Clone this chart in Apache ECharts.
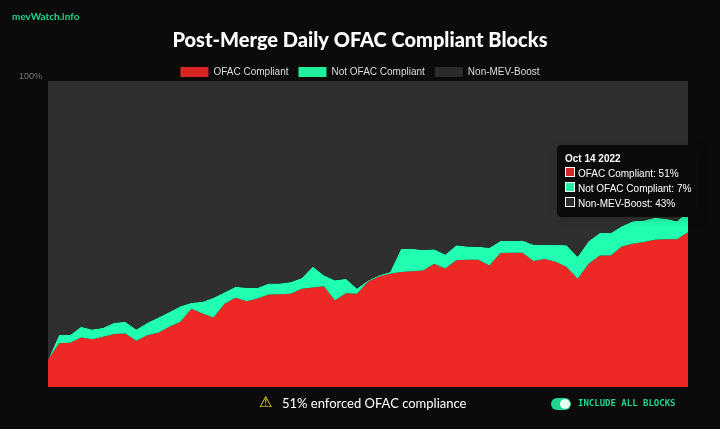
<!DOCTYPE html>
<html>
<head>
<meta charset="utf-8">
<script src="https://cdn.jsdelivr.net/npm/echarts@6/dist/echarts.min.js"></script>
<style>
html, body { margin: 0; padding: 0; background: #0a0b0a; }
#main { width: 720px; height: 429px; }
</style>
</head>
<body>
<div id="main"></div>
<script>
// share of blocks (last point = Oct 14 2022)
var ofac = [9, 14.3, 14.5, 16.2, 15.6, 16.4, 17.3, 17.5, 15.1, 16.9, 17.7, 19.7, 21.3, 25.6, 24, 22.7,
    27.2, 29.2, 28, 28.9, 30.2, 30.3, 30.5, 32.1, 32.5, 32.9, 28.3, 30.6, 30.5, 34.5, 36.1, 37,
    37.6, 37.8, 38.1, 40.3, 38.7, 41.4, 41.6, 41.6, 39.7, 43.8, 43.9, 43.9, 41.2, 41.8, 40.9, 39.2,
    35.4, 40.3, 43, 43, 45.9, 46.8, 47.4, 48.1, 48.3, 48.3, 50.6];
var total = [9, 17, 17, 19.7, 18.8, 19.4, 21, 21.3, 18.8, 21, 22.7, 24.5, 26.4, 27.5, 27.9, 29.2,
    31, 32.8, 32.4, 32.4, 33.8, 33.8, 34.3, 35.6, 39.4, 36.5, 34.9, 35.4, 32.2, 34.8, 36.5, 37.6,
    45.2, 45.2, 44.8, 45, 43.3, 46.3, 45.9, 45.8, 45.5, 47.7, 47.7, 47.9, 46.5, 46.5, 46.5, 46.3,
    42.6, 47.7, 50.3, 50.3, 52.5, 54.2, 54.4, 55.3, 55, 54.2, 57.4];
var notOfac = total.map(function (t, i) { return +(t - ofac[i]).toFixed(1); });
var nonMev = total.map(function (t) { return +(100 - t).toFixed(1); });
var days = ofac.map(function (v, i) { return i == ofac.length - 1 ? 'Oct 14 2022' : 'p' + i; });

var myChart = echarts.init(document.getElementById('main'));
var font = 'Liberation Sans';

function area(name, color, data) {
    return {
        name: name, type: 'line', stack: 'all', data: data,
        symbol: 'none', showSymbol: false, lineStyle: { width: 0 },
        itemStyle: { color: color },
        areaStyle: { color: color, opacity: 1 }
    };
}

var option = {
    backgroundColor: '#0a0b0a',
    animation: false,
    title: {
        text: 'Post-Merge Daily OFAC Compliant Blocks',
        left: 'center', top: 26,
        textStyle: { color: '#fff', fontSize: 20, fontWeight: 900, fontFamily: 'Lato' }
    },
    legend: {
        top: 62, left: 'center', itemWidth: 28, itemHeight: 10, itemGap: 10, icon: 'rect',
        textStyle: { color: '#ddd', fontSize: 10, fontFamily: font },
        data: ['OFAC Compliant', 'Not OFAC Compliant', 'Non-MEV-Boost']
    },
    tooltip: {
        trigger: 'axis', alwaysShowContent: true,
        backgroundColor: '#0b0b0b', borderColor: '#0b0b0b', padding: [5, 7],
        textStyle: { color: '#fff', fontSize: 10, fontFamily: font },
        position: function () { return [557, 145]; },
        formatter: function (params) {
            var s = '<b>' + params[0].name + '</b>';
            params.forEach(function (p) {
                s += '<br><span style="display:inline-block;width:8px;height:8px;border:1px solid #fff;background:' +
                    p.color + ';margin-right:3px"></span>' + p.seriesName + ': ' + Math.round(p.value) + '%';
            });
            return s;
        }
    },
    grid: { left: 48, right: 32, top: 81, bottom: 42 },
    xAxis: {
        type: 'category', data: days, boundaryGap: false,
        axisLine: { show: false }, axisTick: { show: false }, axisLabel: { show: false },
        axisPointer: { lineStyle: { opacity: 0 } }
    },
    yAxis: {
        type: 'value', min: 0, max: 100, interval: 100,
        splitLine: { show: false },
        axisLabel: {
            color: '#777', fontSize: 9, fontFamily: font, margin: 6, verticalAlign: 'bottom',
            formatter: function (v) { return v == 100 ? '100%' : ''; }
        }
    },
    series: [
        area('OFAC Compliant', '#d92622', ofac),
        area('Not OFAC Compliant', '#1ef0a0', notOfac),
        area('Non-MEV-Boost', '#2a2b2a', nonMev)
    ],
    graphic: [
        { type: 'text', left: 12, top: 12, style: { text: 'mevWatch.info', fill: '#1fd68e', font: 'bold 10px Lato' } },
        { type: 'text', left: 259, top: 396, style: { text: '⚠', fill: '#f5e52a', font: '15px DejaVu Sans' } },
        { type: 'text', left: 282, top: 397, style: { text: '51% enforced OFAC compliance', fill: '#fff', font: '13px Lato' } },
        { type: 'rect', left: 551, top: 398, shape: { width: 20, height: 12, r: 6 }, style: { fill: '#1fd68e' } },
        { type: 'circle', left: 560, top: 399, shape: { r: 5 }, style: { fill: '#e8fff4' } },
        { type: 'text', left: 578, top: 399, style: { text: 'INCLUDE ALL BLOCKS', fill: '#1fd68e', font: 'bold 9px DejaVu Sans Mono' } }
    ]
};
myChart.setOption(option);
myChart.dispatchAction({ type: 'showTip', seriesIndex: 0, dataIndex: ofac.length - 1 });
</script>
</body>
</html>
